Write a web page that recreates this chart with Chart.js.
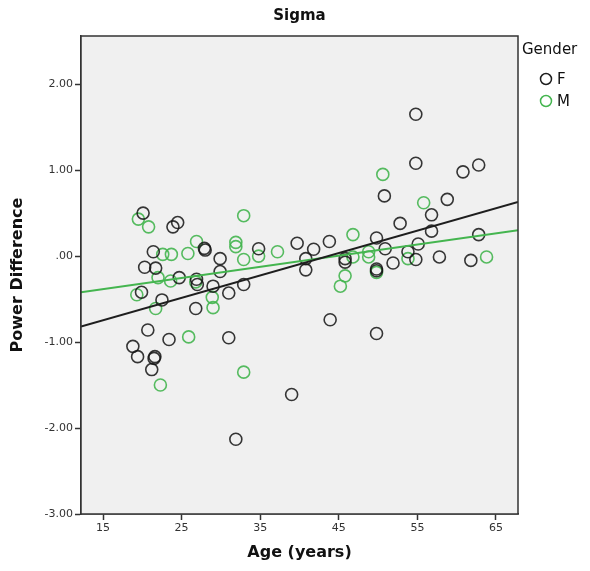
<!DOCTYPE html>
<html>
<head>
<meta charset="utf-8">
<script src="https://cdn.jsdelivr.net/npm/chart.js@4.4.1/dist/chart.umd.min.js"></script>
<style>
  body { margin: 0; background: #fff; }
  #wrap { width: 590px; height: 571px; }
</style>
</head>
<body>
<div id="wrap"><canvas id="chart" width="590" height="571"></canvas></div>
<script>
// Data
const femaleAge = [20.1, 23.9, 24.5, 27.9, 28.0, 21.4, 29.9, 34.8, 39.7, 20.3, 21.7, 29.9, 24.7, 26.9, 27.0,
  29.0, 32.9, 31.0, 19.9, 22.5, 26.8, 20.7, 23.4, 31.0, 18.8, 19.4, 21.5, 21.6, 21.2, 39.0, 31.9,
  54.8, 54.8, 60.8, 62.8, 50.8, 58.8, 56.8, 52.8, 56.8, 62.8, 41.8, 43.8, 49.8, 50.9, 55.1, 40.8,
  40.8, 45.8, 45.8, 53.8, 54.8, 51.9, 57.8, 61.8, 49.8, 49.8, 43.9, 49.8];
const femaleDiff = [0.50, 0.34, 0.39, 0.09, 0.07, 0.05, -0.03, 0.085, 0.15, -0.13, -0.14, -0.18, -0.25, -0.27, -0.33,
  -0.35, -0.33, -0.43, -0.42, -0.51, -0.61, -0.86, -0.97, -0.95, -1.05, -1.17, -1.19, -1.17, -1.32, -1.61, -2.13,
  1.65, 1.08, 0.98, 1.06, 0.70, 0.66, 0.48, 0.38, 0.29, 0.25, 0.08, 0.17, 0.21, 0.085, 0.14, -0.03,
  -0.16, -0.03, -0.07, 0.05, -0.04, -0.08, -0.01, -0.05, -0.15, -0.17, -0.74, -0.90];

const maleAge = [19.5, 20.8, 32.9, 26.9, 22.6, 23.7, 25.8, 31.9, 31.9, 37.2, 32.9, 34.8, 22.0, 23.6, 26.8,
  19.3, 28.9, 29.0, 21.7, 25.9, 32.9, 22.3, 50.6, 55.8, 46.8, 46.8, 48.8, 48.8, 53.8, 63.8, 45.8, 49.8, 45.2];
const maleDiff = [0.43, 0.34, 0.47, 0.17, 0.02, 0.02, 0.03, 0.16, 0.11, 0.05, -0.04, 0.0, -0.25, -0.29, -0.30,
  -0.45, -0.48, -0.60, -0.61, -0.94, -1.35, -1.50, 0.95, 0.62, 0.25, -0.01, 0.05, -0.01, -0.03, -0.01, -0.23, -0.19, -0.35];

// fit lines, read at the two edges of the plot
const fitAge = [12.2, 67.8];
const femaleFit = [-0.82, 0.63];
const maleFit = [-0.42, 0.30];

const xTicks = [15, 25, 35, 45, 55, 65];
const yTicks = [-3, -2, -1, 0, 1, 2];
const yTickLabels = ['-3.00', '-2.00', '-1.00', '.00', '1.00', '2.00'];

const BLACK = '#1e1e1e';
const GREEN = '#44b54f';
const FONT = 'DejaVu Sans';

function pts(xs, ys) {
  return xs.map((x, i) => ({ x: x, y: ys[i] }));
}

// grey plot area + frame, title and legend
const frame = {
  id: 'frame',
  beforeDatasetsDraw(chart) {
    const { ctx, chartArea: a } = chart;
    ctx.save();
    ctx.fillStyle = '#f0f0f0';
    ctx.fillRect(a.left, a.top, a.right - a.left, a.bottom - a.top);
    ctx.restore();
  },
  afterDraw(chart) {
    const { ctx, chartArea: a } = chart;
    ctx.save();
    ctx.strokeStyle = '#333';
    ctx.lineWidth = 1.5;
    ctx.strokeRect(a.left, a.top, a.right - a.left, a.bottom - a.top);

    ctx.fillStyle = '#111';
    ctx.font = 'bold 15px ' + FONT;
    ctx.textAlign = 'center';
    ctx.textBaseline = 'middle';
    ctx.fillText('Sigma', (a.left + a.right) / 2, 16);

    ctx.textAlign = 'left';
    ctx.font = '15px ' + FONT;
    ctx.fillText('Gender', 522, 50);
    const items = [['F', BLACK, 79], ['M', GREEN, 101]];
    items.forEach(([lab, col, y]) => {
      ctx.beginPath();
      ctx.strokeStyle = col;
      ctx.lineWidth = 1.5;
      ctx.arc(546, y, 5.5, 0, Math.PI * 2);
      ctx.stroke();
      ctx.fillStyle = '#111';
      ctx.fillText(lab, 557, y + 1);
    });
    ctx.restore();
  }
};

const ctx = document.getElementById('chart').getContext('2d');
new Chart(ctx, {
  type: 'scatter',
  data: {
    datasets: [
      {
        label: 'F fit', data: pts(fitAge, femaleFit), showLine: true,
        borderColor: BLACK, borderWidth: 2, pointRadius: 0
      },
      {
        label: 'M fit', data: pts(fitAge, maleFit), showLine: true,
        borderColor: GREEN, borderWidth: 2, pointRadius: 0
      },
      {
        label: 'F', data: pts(femaleAge, femaleDiff),
        pointRadius: 6, pointBorderWidth: 1.6, pointBackgroundColor: 'rgba(0,0,0,0)',
        borderColor: 'rgba(20,20,20,0.85)'
      },
      {
        label: 'M', data: pts(maleAge, maleDiff),
        pointRadius: 6, pointBorderWidth: 1.6, pointBackgroundColor: 'rgba(0,0,0,0)',
        borderColor: 'rgba(68,181,79,0.9)'
      }
    ]
  },
  options: {
    responsive: false,
    animation: false,
    layout: { padding: { top: 36, right: 72, left: 0, bottom: 0 } },
    plugins: { legend: { display: false }, tooltip: { enabled: false } },
    scales: {
      x: {
        type: 'linear', min: 12.2, max: 67.8,
        afterBuildTicks: s => { s.ticks = xTicks.map(v => ({ value: v })); },
        afterFit: s => { s.height = 57; },
        grid: { drawOnChartArea: false, tickLength: 6, color: '#333', tickWidth: 1.5 },
        border: { display: true, color: '#333', width: 1.5 },
        ticks: { color: '#333', font: { family: FONT, size: 11 }, padding: 2, maxRotation: 0 },
        title: { display: true, text: 'Age (years)', color: '#111', font: { family: FONT, size: 16, weight: 'bold' }, padding: { top: 4, bottom: 9 } }
      },
      y: {
        type: 'linear', min: -3, max: 2.56,
        afterBuildTicks: s => { s.ticks = yTicks.map(v => ({ value: v })); },
        afterFit: s => { s.width = 81; },
        grid: { drawOnChartArea: false, tickLength: 6, color: '#333', tickWidth: 1.5 },
        border: { display: true, color: '#333', width: 1.5 },
        ticks: {
          color: '#333', font: { family: FONT, size: 11 }, padding: 2,
          callback: v => yTickLabels[yTicks.indexOf(v)]
        },
        title: { display: true, text: 'Power Difference', color: '#111', font: { family: FONT, size: 16, weight: 'bold' }, padding: { top: 8, bottom: 0 } }
      }
    }
  },
  plugins: [frame]
});
</script>
</body>
</html>
